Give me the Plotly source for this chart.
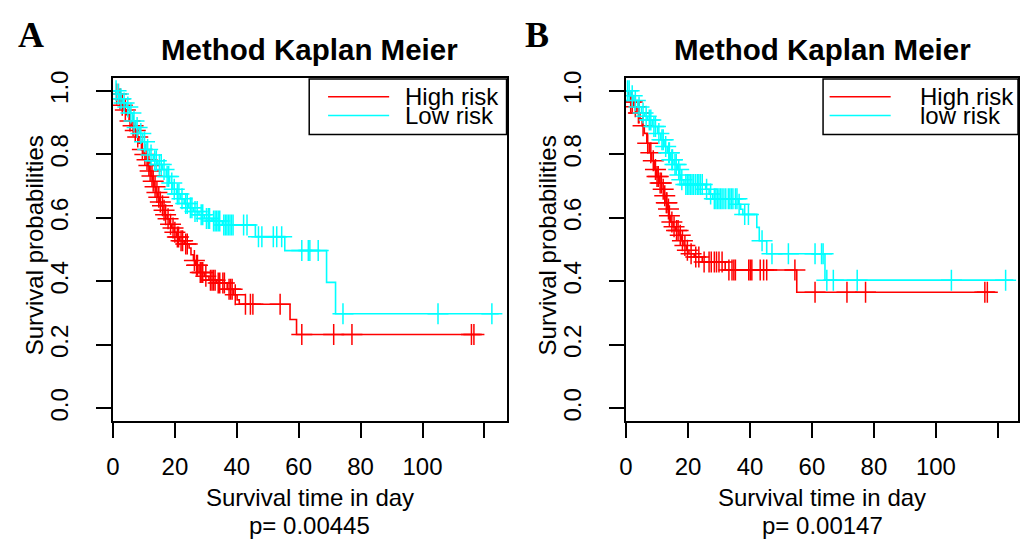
import bisect
import plotly.graph_objects as go

W, H = 1020, 539

# ---------------- data ----------------
# Panel A
a_high_time = [0, 1.0, 2.0, 2.8, 3.5, 4.3, 5.2, 6.0, 6.8, 7.6, 8.4, 9.2, 10.0, 10.7, 11.3, 11.8, 12.3, 12.8, 13.3, 13.9,
               14.4, 15.0, 15.5, 16.1, 16.8, 17.5, 18.3, 19.0, 19.8, 20.5, 21.5, 23.0, 24.6, 25.2, 26.0, 26.7, 27.8, 29.5,
               31.0, 33.5, 36.9, 39.0, 40.1, 40.8, 57.2, 59.3]
a_high_surv = [1.0, 0.99, 0.975, 0.955, 0.94, 0.925, 0.905, 0.89, 0.875, 0.855, 0.835, 0.815, 0.80, 0.783, 0.765, 0.748,
               0.732, 0.715, 0.698, 0.68, 0.665, 0.65, 0.638, 0.624, 0.61, 0.597, 0.58, 0.568, 0.555, 0.54, 0.528, 0.518,
               0.505, 0.484, 0.466, 0.451, 0.428, 0.416, 0.404, 0.395, 0.375, 0.358, 0.342, 0.328, 0.28, 0.233]
a_high_end = 118.7
a_high_censor = [1.2, 2.3, 3.0, 4.0, 5.5, 6.5, 7.2, 8.0, 9.5, 10.3, 11.0, 11.6, 12.0, 12.6, 13.0, 13.6, 14.2, 14.8, 15.3,
                 16.0, 16.5, 17.0, 17.8, 18.6, 19.4, 20.0, 20.8, 21.2, 22.0, 22.5, 23.5, 24.0, 26.3, 27.0, 27.3, 28.2,
                 28.7, 29.0, 30.0, 31.5, 32.0, 32.5, 33.0, 34.0, 34.5, 35.5, 36.0, 37.5, 38.0, 38.5, 39.5, 42.8, 44.4,
                 45.2, 54.0, 61.0, 71.3, 77.2, 115.8, 116.6]

a_low_time = [0, 1.2, 2.2, 3.2, 4.3, 5.3, 6.4, 7.4, 8.5, 9.6, 10.7, 11.8, 13.0, 14.5, 16.0, 17.2, 18.3, 19.3, 20.5, 21.8,
              23.0, 24.5, 26.0, 27.8, 29.5, 32.0, 35.3, 46.0, 55.5, 69.0, 71.9]
a_low_surv = [1.0, 0.99, 0.975, 0.962, 0.949, 0.93, 0.905, 0.885, 0.866, 0.84, 0.815, 0.798, 0.78, 0.768, 0.752, 0.73,
              0.71, 0.69, 0.675, 0.66, 0.645, 0.632, 0.62, 0.61, 0.598, 0.59, 0.578, 0.541, 0.497, 0.397, 0.298]
a_low_end = 124.6
a_low_censor = [1.0, 1.8, 2.6, 3.6, 4.8, 5.8, 6.8, 7.8, 9.0, 10.2, 11.2, 12.3, 13.5, 14.0, 15.0, 15.6, 16.5, 17.5, 18.0,
                19.0, 19.8, 20.8, 21.3, 22.3, 23.5, 24.0, 25.0, 25.5, 26.5, 27.2, 28.5, 29.0, 30.2, 30.8, 31.2, 32.5,
                33.0, 33.5, 34.0, 34.5, 35.8, 36.3, 36.8, 37.3, 37.8, 38.3, 38.8, 42.2, 43.3, 47.0, 48.1, 51.8, 52.9,
                54.5, 61.0, 63.1, 63.6, 66.3, 74.3, 105.0, 122.4]

# Panel B
b_high_time = [0, 0.8, 1.5, 2.5, 3.5, 4.5, 5.2, 5.9, 6.7, 7.5, 8.3, 9.1, 9.9, 10.7, 11.5, 12.3, 12.9, 13.4, 13.9, 14.4,
               15.2, 16.0, 17.1, 17.9, 18.7, 19.5, 20.3, 22.0, 24.6, 32.0, 55.1]
b_high_surv = [1.0, 0.985, 0.965, 0.95, 0.93, 0.912, 0.89, 0.866, 0.835, 0.805, 0.78, 0.752, 0.73, 0.71, 0.69, 0.67,
               0.648, 0.628, 0.607, 0.587, 0.572, 0.56, 0.545, 0.528, 0.513, 0.498, 0.487, 0.477, 0.461, 0.436, 0.366]
b_high_end = 119.0
b_high_censor = [1.5, 2.0, 3.0, 4.0, 4.2, 5.5, 7.0, 8.0, 8.8, 9.5, 10.0, 10.4, 11.0, 11.4, 12.0, 12.5, 13.0, 13.2, 13.7,
                 14.0, 14.8, 15.5, 16.3, 16.8, 17.5, 18.2, 19.0, 19.8, 21.0, 22.5, 23.5, 25.2, 26.8, 27.5, 28.5, 29.2,
                 30.0, 31.0, 33.2, 34.2, 34.8, 35.3, 39.6, 40.1, 40.6, 43.3, 44.4, 45.4, 54.5, 61.0, 71.3, 77.3, 115.8,
                 116.6]

b_low_time = [0, 1.5, 2.5, 3.8, 5.0, 6.0, 7.0, 8.5, 10.2, 11.2, 12.3, 13.3, 14.4, 15.5, 16.6, 17.2, 17.7, 18.7, 25.7,
              26.8, 28.0, 36.3, 37.0, 37.7, 42.2, 43.0, 45.4, 64.2]
b_low_surv = [1.0, 0.985, 0.97, 0.949, 0.93, 0.92, 0.908, 0.888, 0.866, 0.846, 0.825, 0.805, 0.783, 0.768, 0.752, 0.735,
              0.72, 0.705, 0.69, 0.675, 0.66, 0.643, 0.627, 0.611, 0.57, 0.528, 0.487, 0.404]
b_low_end = 125.0
b_low_censor = [0.5, 1.0, 2.0, 3.0, 4.2, 5.5, 6.5, 7.5, 8.0, 9.0, 9.5, 10.6, 11.6, 12.0, 12.8, 13.8, 14.0, 14.8, 15.0,
                15.8, 16.2, 17.0, 17.4, 18.0, 19.3, 19.8, 20.3, 20.8, 21.3, 21.8, 22.4, 23.0, 23.5, 24.0, 24.6, 26.0,
                27.3, 28.5, 29.0, 29.5, 30.0, 30.5, 31.0, 31.6, 32.2, 33.0, 33.5, 34.0, 34.5, 35.3, 35.8, 36.5, 38.3,
                39.5, 43.9, 47.1, 52.4, 61.0, 63.1, 63.6, 64.8, 66.9, 74.6, 105.0, 122.5]

x_tick_vals = [0, 20, 40, 60, 80, 100, 120]
x_tick_text = ["0", "20", "40", "60", "80", "100", ""]
y_tick_vals = [0.0, 0.2, 0.4, 0.6, 0.8, 1.0]
y_tick_text = ["0.0", "0.2", "0.4", "0.6", "0.8", "1.0"]

panel_titles = ["Method Kaplan Meier", "Method Kaplan Meier"]
panel_letters = ["A", "B"]
legend_labels = [["High risk", "Low risk"], ["High risk", "low risk"]]
p_values = ["p= 0.00445", "p= 0.00147"]
x_title = "Survival time in day"
y_title = "Survival probabilities"

RED = "#FF0000"
CYAN = "#00FFFF"
FONT = "Liberation Sans, Arial, sans-serif"

# ---------------- layout geometry (pixels) ----------------
panels = [
    dict(x0=106.7, x1=503.0, xmax=127.14),
    dict(x0=623.3, x1=1018.0, xmax=126.5),
]
Y_TOP, Y_BOT = 72.1, 419.6


def px(x):
    return x / W


def py(y):
    return 1 - y / H


def step_value(times, surv, t):
    i = bisect.bisect_right(times, t) - 1
    return surv[max(i, 0)]


fig = go.Figure()

series = [
    [(a_high_time, a_high_surv, a_high_end, a_high_censor, RED),
     (a_low_time, a_low_surv, a_low_end, a_low_censor, CYAN)],
    [(b_high_time, b_high_surv, b_high_end, b_high_censor, RED),
     (b_low_time, b_low_surv, b_low_end, b_low_censor, CYAN)],
]

for k, group in enumerate(series):
    xa = "x" if k == 0 else "x2"
    ya = "y" if k == 0 else "y2"
    for times, surv, end, cens, col in group:
        fig.add_trace(go.Scatter(
            x=list(times) + [end], y=list(surv) + [surv[-1]],
            mode="lines", line=dict(color=col, width=1.6, shape="hv"),
            xaxis=xa, yaxis=ya, showlegend=False, hoverinfo="skip"))
        fig.add_trace(go.Scatter(
            x=cens, y=[step_value(times, surv, t) for t in cens],
            mode="markers",
            marker=dict(symbol="cross-thin", size=15, color=col, line=dict(color=col, width=1.5)),
            xaxis=xa, yaxis=ya, showlegend=False, hoverinfo="skip"))

axis_common = dict(
    showline=True, linecolor="black", linewidth=1.5, mirror=True,
    ticks="outside", ticklen=15, tickwidth=1.5, tickcolor="black",
    showgrid=False, zeroline=False,
    tickfont=dict(family=FONT, size=24, color="black"),
)

layout_axes = {}
for k, p in enumerate(panels):
    sx = "xaxis" if k == 0 else "xaxis2"
    sy = "yaxis" if k == 0 else "yaxis2"
    layout_axes[sx] = dict(
        axis_common, domain=[px(p["x0"]), px(p["x1"])], range=[0, p["xmax"]],
        tickmode="array", tickvals=x_tick_vals, ticktext=x_tick_text,
        anchor="y" if k == 0 else "y2", ticklabelstandoff=8)
    layout_axes[sy] = dict(
        axis_common, domain=[py(Y_BOT), py(Y_TOP)], range=[-0.04, 1.04],
        tickmode="array", tickvals=y_tick_vals, ticktext=y_tick_text, tickangle=-90,
        anchor="x" if k == 0 else "x2", ticklabelstandoff=19)

annotations = []
shapes = []
letter_x = [24, 534]
for k, p in enumerate(panels):
    cx = (p["x0"] + p["x1"]) / 2
    annotations.append(dict(text="<b>%s</b>" % panel_letters[k], x=px(letter_x[k]), y=py(28),
                            xref="paper", yref="paper", showarrow=False, xanchor="center", yanchor="middle",
                            font=dict(family="Liberation Serif, Times New Roman, serif", size=36, color="black")))
    annotations.append(dict(text="<b>%s</b>" % panel_titles[k], x=px(cx), y=py(43),
                            xref="paper", yref="paper", showarrow=False, xanchor="center", yanchor="middle",
                            font=dict(family=FONT, size=29.5, color="black")))
    annotations.append(dict(text=x_title, x=px(cx), y=py(497), xref="paper", yref="paper", showarrow=False,
                            xanchor="center", yanchor="middle", font=dict(family=FONT, size=24, color="black")))
    annotations.append(dict(text=p_values[k], x=px(cx), y=py(525), xref="paper", yref="paper", showarrow=False,
                            xanchor="center", yanchor="middle", font=dict(family=FONT, size=24, color="black")))
    annotations.append(dict(text=y_title, x=px(p["x0"] - 79), y=py(242), xref="paper", yref="paper",
                            showarrow=False, textangle=-90, xanchor="center", yanchor="middle",
                            font=dict(family=FONT, size=24, color="black")))
    # legend box
    lx0 = 304.3 if k == 0 else 821.7
    shapes.append(dict(type="rect", xref="paper", yref="paper", x0=px(lx0), x1=px(p["x1"]),
                       y0=py(129.3), y1=py(Y_TOP + 0.9), line=dict(color="black", width=1.5),
                       fillcolor="white", layer="above"))
    seg_x0 = lx0 + 19 if k == 0 else lx0 + 6.6
    seg_x1 = seg_x0 + 61.5
    text_x = 399 if k == 0 else 917
    for j, (col, yy) in enumerate([(RED, 91), (CYAN, 110)]):
        shapes.append(dict(type="line", xref="paper", yref="paper", x0=px(seg_x0), x1=px(seg_x1),
                           y0=py(yy), y1=py(yy), line=dict(color=col, width=1.6), layer="above"))
        annotations.append(dict(text=legend_labels[k][j], x=px(text_x), y=py(yy), xref="paper", yref="paper",
                                showarrow=False, xanchor="left", yanchor="middle",
                                font=dict(family=FONT, size=24, color="black")))

fig.update_layout(
    width=W, height=H, autosize=False,
    margin=dict(l=0, r=0, t=0, b=0),
    paper_bgcolor="white", plot_bgcolor="white",
    showlegend=False,
    annotations=annotations, shapes=shapes,
    **layout_axes,
)

pin_to_corner = (
    "document.documentElement.style.margin='0';document.documentElement.style.padding='0';"
    "document.body.style.margin='0';document.body.style.padding='0';document.body.style.overflow='hidden';"
    "var d=document.getElementById('{plot_id}');d.style.position='absolute';d.style.left='0px';d.style.top='0px';"
)

fig.write_html("out.html", post_script=pin_to_corner, config={"displayModeBar": False})
